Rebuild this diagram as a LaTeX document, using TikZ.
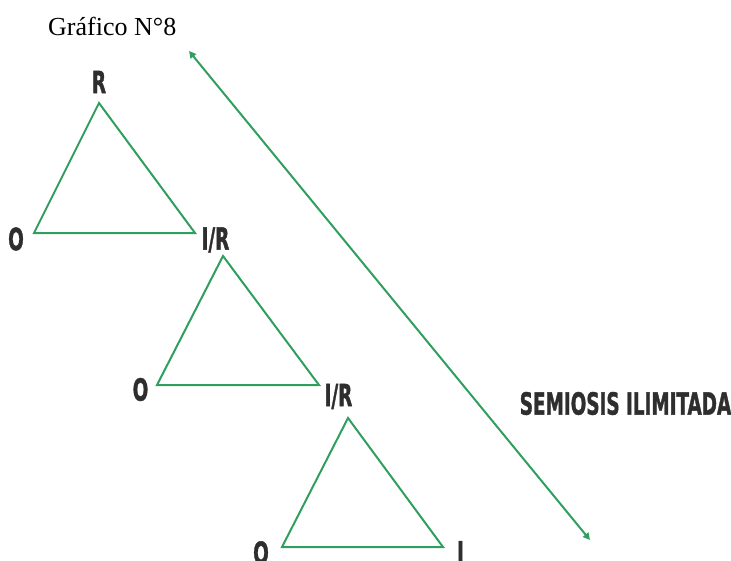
\documentclass[tikz,border=0pt]{standalone}
\usepackage{fontspec}
\usepackage{graphicx}
\setmainfont{Liberation Serif}
\newfontfamily\lblfont[BoldFeatures={FakeBold=1.6}]{DejaVu Sans Condensed}
\usetikzlibrary{arrows.meta}
\definecolor{linegreen}{HTML}{2F9E5E}
\definecolor{lblgray}{HTML}{2E2E2E}
\newcommand{\lbl}[1]{\scalebox{0.67}[1]{\lblfont\bfseries #1}}
\tikzset{
  tri/.style={draw=linegreen, line width=2pt, line join=miter},
  vlabel/.style={text=lblgray, font=\fontsize{30.5}{30.5}\selectfont, inner sep=0pt},
  semi/.style={draw=linegreen, line width=2pt,
    {Triangle[length=7pt,width=7pt]}-{Triangle[length=7pt,width=7pt]}}
}
\begin{document}
\begin{tikzpicture}[x=1pt,y=-1pt]
\useasboundingbox (0,0) rectangle (731,560);
% title
\node[anchor=base west, inner sep=0pt, font=\fontsize{26}{26}\selectfont] (title) at (48,35) {Gráfico N°8};

% first triangle
\coordinate (a1) at (99,103);
\coordinate (l1) at (34,233);
\coordinate (r1) at (195,233);
\draw[tri] (a1) -- (l1) -- (r1) -- cycle;
\node[vlabel] (R1) at (99,82) {\lbl{R}};
\node[vlabel] (O1) at (16,239) {\lbl{O}};
\node[vlabel] (IR1) at (215.5,240) {\lbl{I/R}};

% second triangle
\coordinate (a2) at (223,256);
\coordinate (l2) at (157,385);
\coordinate (r2) at (319,385);
\draw[tri] (a2) -- (l2) -- (r2) -- cycle;
\node[vlabel] (O2) at (140.5,389.5) {\lbl{O}};
\node[vlabel] (IR2) at (338.5,396.5) {\lbl{I/R}};

% third triangle
\coordinate (a3) at (348,418);
\coordinate (l3) at (282,547);
\coordinate (r3) at (443,547);
\draw[tri] (a3) -- (l3) -- (r3) -- cycle;
\node[vlabel, anchor=north] (O3) at (261,541) {\lbl{O}};
\node[vlabel, anchor=north] (I3) at (460.5,541) {\lbl{I}};

% double-headed arrow of unlimited semiosis
\coordinate (top) at (189,51);
\coordinate (bot) at (590,540);
\draw[semi] (top) -- (bot);
\node[vlabel] (semiosis) at (625.5,403.5) {\lbl{SEMIOSIS ILIMITADA}};
\end{tikzpicture}
\end{document}
